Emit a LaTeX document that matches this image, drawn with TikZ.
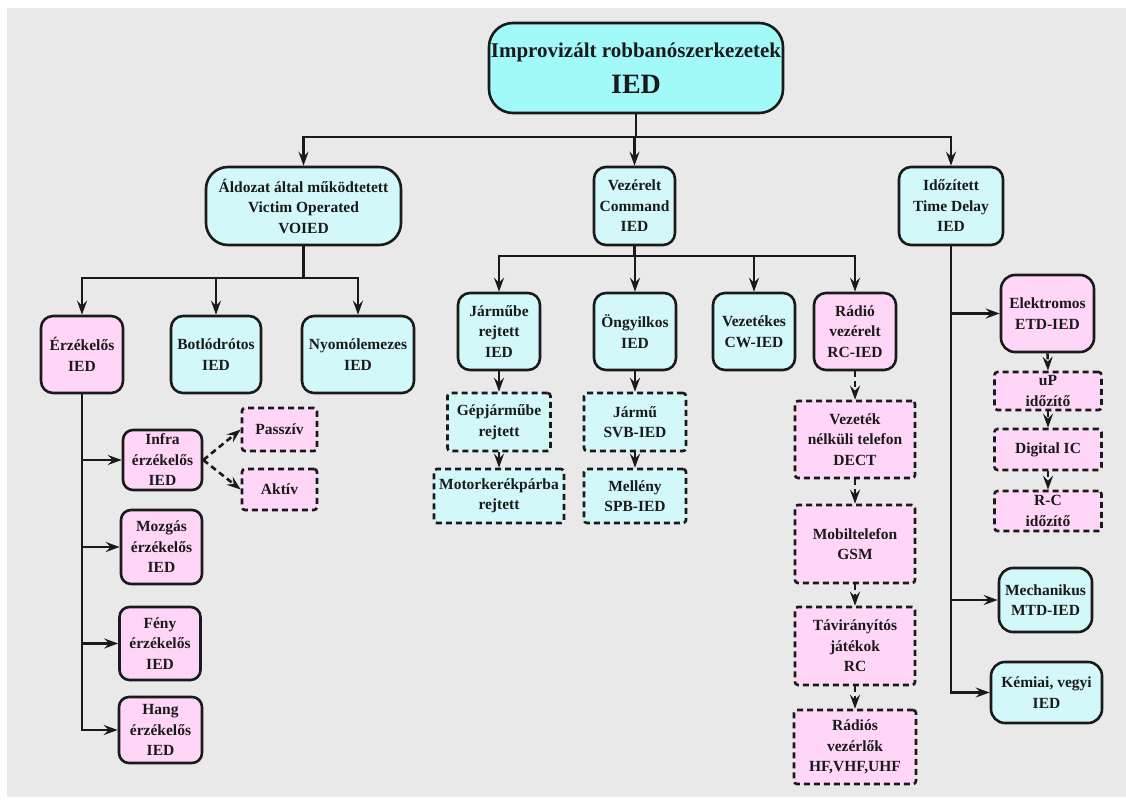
\documentclass[tikz,border=0pt]{standalone}
\usepackage{fontspec}
\setmainfont{Liberation Serif}
\usetikzlibrary{arrows.meta}
\definecolor{bggray}{HTML}{E9E9E9}
\definecolor{rootcyan}{HTML}{A2FAF8}
\definecolor{lcyan}{HTML}{D2F8FA}
\definecolor{lpink}{HTML}{FFD6F8}
\definecolor{ink}{HTML}{1A1A1A}
\tikzset{
  box/.style={draw=ink, line width=2.6pt, align=center, inner sep=1pt,
    text=ink, font=\bfseries\fontsize{15.5}{20.5}\selectfont},
  cy/.style={box, fill=lcyan, rounded corners=12pt},
  pk/.style={box, fill=lpink, rounded corners=12pt},
  dcy/.style={box, fill=lcyan, rounded corners=3pt, dash pattern=on 6pt off 4pt},
  dpk/.style={box, fill=lpink, rounded corners=3pt, dash pattern=on 6pt off 4pt},
  sz/.style 2 args={minimum width=#1pt, minimum height=#2pt},
  arr/.style={draw=ink, line width=2.6pt, -{Stealth[length=14pt,width=10pt,inset=5pt]}},
  darr/.style={arr, dash pattern=on 6pt off 4pt},
}
\begin{document}
\begin{tikzpicture}[x=1pt, y=-1pt]
\useasboundingbox (0,0) rectangle (1126,800);
\fill[bggray] (7,8) rectangle (1126,797);

% top level
\node[box, fill=rootcyan, rounded corners=24pt, sz={294}{90}] (root) at (636,68)
  {{\fontsize{21}{30}\selectfont Improvizált robbanószerkezetek}\\[12pt]{\fontsize{28}{30}\selectfont IED}};

% main categories
\node[cy, rounded corners=22pt, sz={195}{78}] (ald) at (303.5,206) {Áldozat által működtetett\\Victim Operated\\VOIED};
\node[cy, sz={81}{78}] (vez) at (634.5,206) {Vezérelt\\Command\\IED};
\node[cy, sz={104}{78}] (ido) at (951,206) {Időzített\\Time Delay\\IED};

\coordinate (rbus) at (636,137);
\draw[arr] (root.south) -- (rbus) -| (ald.north);
\draw[arr] (root.south) -- (rbus) -| (vez.north);
\draw[arr] (root.south) -- (rbus) -| (ido.north);

% victim operated branch
\node[pk, sz={82}{77}] (erz) at (82,354.5) {Érzékelős\\IED};
\node[cy, sz={90}{77}] (bot) at (216,354.5) {Botlódrótos\\IED};
\node[cy, sz={112}{77}] (nyo) at (358,354.5) {Nyomólemezes\\IED};

\coordinate (abus) at (303.5,278);
\draw[arr] (ald.south) -- (abus) -| (erz.north);
\draw[arr] (ald.south) -- (abus) -| (bot.north);
\draw[arr] (ald.south) -- (abus) -| (nyo.north);

\node[pk, rounded corners=10pt, sz={79}{60}] (infra) at (162.5,460) {Infra\\érzékelős\\IED};
\node[dpk, sz={75}{43}] (passz) at (279.5,429.5) {Passzív};
\node[dpk, sz={75}{41}] (akt) at (279.5,489.5) {Aktív};
\node[pk, rounded corners=10pt, sz={81}{74}] (moz) at (161.5,547) {Mozgás\\érzékelős\\IED};
\node[pk, rounded corners=10pt, sz={81}{73}] (feny) at (160,643.5) {Fény\\érzékelős\\IED};
\node[pk, rounded corners=10pt, sz={83}{66}] (hang) at (160.5,730) {Hang\\érzékelős\\IED};

\draw[arr] (erz.south) |- (infra.west);
\draw[arr] (erz.south) |- (moz.west);
\draw[arr] (erz.south) |- (feny.west);
\draw[arr] (erz.south) |- (hang.west);
\draw[darr] (infra.east) -- (passz.west);
\draw[darr] (infra.east) -- (akt.west);

% command branch
\node[cy, sz={82}{77}] (jar) at (499,331.5) {Járműbe\\rejtett\\IED};
\node[cy, sz={82}{77}] (ong) at (635,331.5) {Öngyilkos\\IED};
\node[cy, sz={82}{77}] (vzt) at (754,331.5) {Vezetékes\\CW-IED};
\node[pk, sz={82}{77}] (rad) at (855,331.5) {Rádió\\vezérelt\\RC-IED};

\coordinate (vbus) at (634.5,256);
\draw[arr] (vez.south) -- (vbus) -| (jar.north);
\draw[arr] (vez.south) -- (vbus) -| (ong.north);
\draw[arr] (vez.south) -- (vbus) -| (vzt.north);
\draw[arr] (vez.south) -- (vbus) -| (rad.north);

\node[dcy, sz={103}{58}] (gep) at (499,422) {Gépjárműbe\\rejtett};
\node[dcy, sz={130}{54}] (mot) at (499,496) {Motorkerékpárba\\rejtett};
\node[dcy, sz={102}{58}] (svb) at (635,422) {Jármű\\SVB-IED};
\node[dcy, sz={102}{54}] (spb) at (635,496) {Mellény\\SPB-IED};

\draw[arr] (jar.south) -- (gep.north);
\draw[arr] (gep.south) -- (mot.north);
\draw[arr] (ong.south) -- (svb.north);
\draw[arr] (svb.south) -- (spb.north);

\node[dpk, sz={120}{77}] (dect) at (855,439.5) {Vezeték\\nélküli telefon\\DECT};
\node[dpk, sz={120}{78}] (gsm) at (855,544) {Mobiltelefon\\GSM};
\node[dpk, sz={120}{78}] (rcj) at (855,646) {Távirányítós\\játékok\\RC};
\node[dpk, sz={122}{74}] (hf) at (855,747) {Rádiós\\vezérlők\\HF,VHF,UHF};

\draw[darr] (rad.south) -- (dect.north);
\draw[darr] (dect.south) -- (gsm.north);
\draw[darr] (gsm.south) -- (rcj.north);
\draw[darr] (rcj.south) -- (hf.north);

% time delay branch
\node[pk, rounded corners=14pt, sz={93}{77}] (elek) at (1047.5,313.5) {Elektromos\\ETD-IED};
\node[dpk, sz={107}{38}] (up) at (1048,391) {uP\\időzítő};
\node[dpk, sz={107}{41}] (dig) at (1048,449.5) {Digital IC};
\node[dpk, sz={107}{40}] (rci) at (1048,511) {R-C\\időzítő};
\node[cy, rounded corners=14pt, sz={93}{64}] (mech) at (1045.5,600) {Mechanikus\\MTD-IED};
\node[cy, rounded corners=14pt, sz={111}{61}] (kem) at (1046.5,692.5) {Kémiai, vegyi\\IED};

\draw[arr] (ido.south) |- (elek.west);
\draw[arr] (ido.south) |- (mech.west);
\draw[arr] (ido.south) |- (kem.west);
\draw[darr] (elek.south) -- (up.north);
\draw[darr] (up.south) -- (dig.north);
\draw[darr] (dig.south) -- (rci.north);
\end{tikzpicture}
\end{document}
